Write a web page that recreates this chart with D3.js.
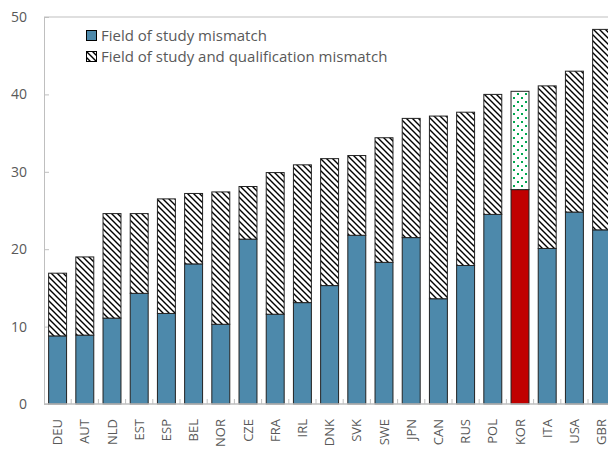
<!DOCTYPE html>
<html>
<head>
<meta charset="utf-8">
<script src="https://cdn.jsdelivr.net/npm/d3@7"></script>
<style>
  html, body { margin: 0; padding: 0; background: #fff; }
  svg { display: block; font-family: "Open Sans", "Noto Sans", sans-serif; }
</style>
</head>
<body>
<svg id="chart" width="608" height="450"></svg>
<script>
// Countries, ordered by total mismatch
const countries = ["DEU","AUT","NLD","EST","ESP","BEL","NOR","CZE","FRA","IRL","DNK","SVK","SWE","JPN","CAN","RUS","POL","KOR","ITA","USA","GBR"];
// Share of workers with a field-of-study mismatch only (%)
const fieldMismatch = [8.8, 8.9, 11.1, 14.3, 11.7, 18.1, 10.3, 21.3, 11.6, 13.1, 15.3, 21.8, 18.3, 21.5, 13.6, 17.9, 24.5, 27.7, 20.1, 24.8, 22.5];
// Additional share with both field-of-study and qualification mismatch (%)
const fieldQualMismatch = [8.1, 10.1, 13.5, 10.3, 14.8, 9.1, 17.1, 6.8, 18.3, 17.8, 16.4, 10.3, 16.1, 15.4, 23.6, 19.8, 15.5, 12.7, 21.0, 18.2, 25.9];
const yTicks = [0, 10, 20, 30, 40, 50];
const seriesNames = ["Field of study mismatch", "Field of study and qualification mismatch"];
const highlight = "KOR";

const svg = d3.select("#chart");
const margin = { left: 44, top: 17, bottom: 46 };
const H = 450;

const x = d3.scaleBand()
  .domain(countries)
  .range([margin.left, margin.left + countries.length * 27.2])
  .paddingInner(0.34)
  .paddingOuter(0.17);

const y = d3.scaleLinear().domain([0, 50]).range([H - margin.bottom, margin.top]);

// Fill patterns
const defs = svg.append("defs");
const hatch = defs.append("pattern")
  .attr("id", "hatch").attr("patternUnits", "userSpaceOnUse")
  .attr("width", 6).attr("height", 6);
hatch.append("rect").attr("width", 6).attr("height", 6).attr("fill", "#fff");
hatch.append("path")
  .attr("d", "M0,0L6,6M-1,5L1,7M5,-1L7,1")
  .attr("stroke", "#000").attr("stroke-width", 1.4);

const dots = defs.append("pattern")
  .attr("id", "dots").attr("patternUnits", "userSpaceOnUse")
  .attr("width", 8).attr("height", 8);
dots.append("rect").attr("width", 8).attr("height", 8).attr("fill", "#fff");
dots.append("rect").attr("x", 1).attr("y", 1).attr("width", 2).attr("height", 2).attr("fill", "#00a84f");
dots.append("rect").attr("x", 5).attr("y", 5).attr("width", 2).attr("height", 2).attr("fill", "#00a84f");

const axisColor = "#bfbfbf";
const textColor = "#595959";

// Plot frame: top border and left axis line
svg.append("line")
  .attr("x1", margin.left).attr("x2", 608)
  .attr("y1", y(50)).attr("y2", y(50))
  .attr("stroke", axisColor);

// Y axis with inward ticks
const yAxis = svg.append("g")
  .attr("transform", `translate(${margin.left},0)`)
  .call(d3.axisRight(y).tickValues(yTicks).tickSize(5).tickSizeOuter(0));
yAxis.select(".domain").attr("stroke", axisColor);
yAxis.selectAll(".tick line").attr("stroke", axisColor);
yAxis.selectAll(".tick text")
  .attr("x", -17).attr("text-anchor", "end")
  .attr("fill", textColor).attr("font-size", 14)
  .attr("font-family", "Open Sans, Noto Sans, sans-serif");

// Stacked bars
const stackData = countries.map((c, i) => ({ c, a: fieldMismatch[i], b: fieldQualMismatch[i] }));
const bars = svg.append("g");

bars.selectAll("rect.lower")
  .data(stackData).join("rect")
  .attr("class", "lower")
  .attr("x", d => x(d.c)).attr("width", x.bandwidth())
  .attr("y", d => y(d.a)).attr("height", d => y(0) - y(d.a))
  .attr("fill", d => d.c === highlight ? "#c00000" : "#4d89ab")
  .attr("stroke", "#222").attr("stroke-width", 1);

bars.selectAll("rect.upper")
  .data(stackData).join("rect")
  .attr("class", "upper")
  .attr("x", d => x(d.c)).attr("width", x.bandwidth())
  .attr("y", d => y(d.a + d.b)).attr("height", d => y(d.a) - y(d.a + d.b))
  .attr("fill", d => d.c === highlight ? "url(#dots)" : "url(#hatch)")
  .attr("stroke", "#222").attr("stroke-width", 1);

// X axis with ticks between categories
const xAxisG = svg.append("g");
xAxisG.append("line")
  .attr("x1", margin.left).attr("x2", 608)
  .attr("y1", y(0)).attr("y2", y(0))
  .attr("stroke", axisColor).attr("stroke-width", 1.5);
const gap = (x.step() - x.bandwidth()) / 2;
xAxisG.selectAll("line.sep")
  .data(countries.slice(0, -1)).join("line")
  .attr("class", "sep")
  .attr("x1", d => x(d) + x.bandwidth() + gap).attr("x2", d => x(d) + x.bandwidth() + gap)
  .attr("y1", y(0)).attr("y2", y(0) - 5)
  .attr("stroke", axisColor);
xAxisG.selectAll("text")
  .data(countries).join("text")
  .attr("transform", d => `translate(${x(d) + x.bandwidth() / 2 + 4.5},${y(0) + 15}) rotate(-90)`)
  .attr("text-anchor", "end")
  .attr("fill", textColor).attr("font-size", 13)
  .text(d => d);

// Legend
const legend = svg.append("g").attr("transform", "translate(86,30)");
const fills = ["#4d89ab", "url(#hatch)"];
seriesNames.forEach((name, i) => {
  const row = legend.append("g").attr("transform", `translate(0,${i * 21})`);
  row.append("rect").attr("x", 0.5).attr("y", 0.5).attr("width", 10).attr("height", 10)
    .attr("fill", fills[i]).attr("stroke", "#000").attr("stroke-width", 1);
  row.append("text").attr("x", 15).attr("y", 11)
    .attr("fill", textColor).attr("font-size", 15).text(name);
});
</script>
</body>
</html>
